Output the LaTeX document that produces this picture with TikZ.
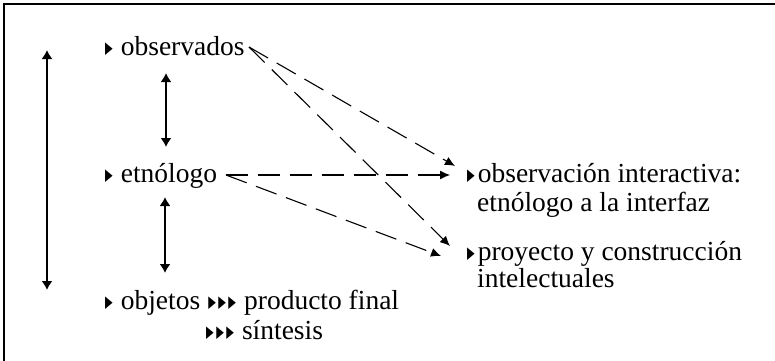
\documentclass[tikz,border=0pt]{standalone}
\usepackage{fontspec}
\setmainfont{Liberation Serif}
\newfontfamily\symf{DejaVu Sans}
\usetikzlibrary{arrows.meta}
\newcommand{\tri}{\raisebox{1.2pt}{\scalebox{0.36}[0.6]{\symf ▶}}}
\newcommand{\ttri}{\tri\hspace{2.5pt}\tri\hspace{2.5pt}\tri}
\begin{document}
\begin{tikzpicture}[x=1pt,y=-1pt,
  lbl/.style={anchor=base west,inner sep=0pt,font=\fontsize{27.5}{32}\selectfont},
  solidarr/.style={{Latex[length=9pt,width=11pt]}-{Latex[length=9pt,width=11pt]},line width=1.7pt},
  dasharr/.style={-{Latex[length=10pt,width=9pt]},line width=1.1pt,dash pattern=on 22pt off 10pt}]
\useasboundingbox (0,0) rectangle (775,360);
\draw[line width=2.5pt] (4,362) -- (4,4) -- (777,4);
% left nodes
\node[lbl] (obs) at (105,55) {\tri\hspace{8pt}observados};
\node[lbl] (etn) at (105,182) {\tri\hspace{8pt}etnólogo};
\node[lbl] (obj) at (105,309) {\tri\hspace{8pt}objetos\hspace{8pt}\ttri\hspace{8pt}producto final};
\node[lbl] (sin) at (206,339) {\ttri\hspace{8pt}síntesis};
% right nodes
\node[lbl] (oi) at (467,182) {\tri\hspace{3pt}observación interactiva:};
\node[lbl] (oi2) at (477,211) {etnólogo a la interfaz};
\node[lbl] (pc) at (467,260) {\tri\hspace{3pt}proyecto y construcción};
\node[lbl] (pc2) at (477,287) {intelectuales};
% coordinates
\coordinate (lt) at (47,50);
\coordinate (lb) at (47,290);
\coordinate (a1t) at (166,73);
\coordinate (a1b) at (166,147);
\coordinate (a2t) at (165,197);
\coordinate (a2b) at (165,273);
\coordinate (os) at (249,47);
\coordinate (es) at (226,175);
\coordinate (t1) at (455,166);
\coordinate (t2) at (450,175);
\coordinate (t3) at (450,246);
\coordinate (t4) at (441,256);
\draw[solidarr] (lt) -- (lb);
\draw[solidarr] (a1t) -- (a1b);
\draw[solidarr] (a2t) -- (a2b);
\draw[dasharr] (os) -- (t1);
\draw[dasharr] (os) -- (t3);
\draw[dasharr] (es) -- (t2);
\draw[dasharr] (es) -- (t4);
\end{tikzpicture}
\end{document}
